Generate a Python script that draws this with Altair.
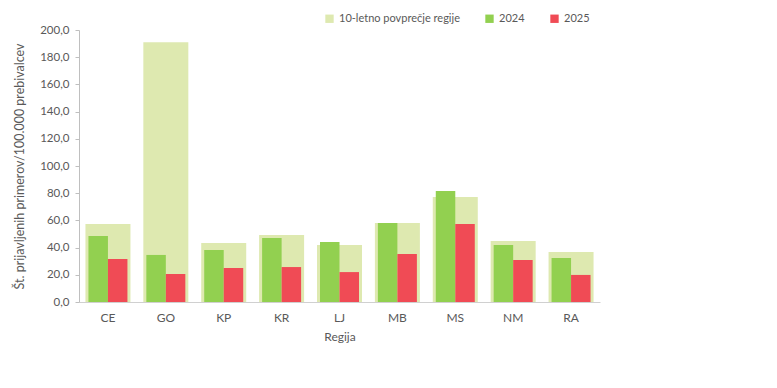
import altair as alt
import pandas as pd

regije = ["CE", "GO", "KP", "KR", "LJ", "MB", "MS", "NM", "RA"]
povprecje = [57.4, 191.0, 43.4, 49.3, 41.9, 58.1, 77.2, 44.9, 36.8]
v2024 = [48.5, 34.6, 38.2, 47.1, 44.1, 58.0, 81.6, 41.9, 32.4]
v2025 = [31.6, 20.6, 25.0, 25.7, 22.0, 35.3, 57.4, 30.9, 19.9]

serije = ["10-letno povprečje regije", "2024", "2025"]
barve = ["#DEE9B0", "#92D050", "#F04B55"]

rows = []
for r, a, b, c in zip(regije, povprecje, v2024, v2025):
    rows.append({"Regija": r, "serija": serije[0], "vrednost": a})
    rows.append({"Regija": r, "serija": serije[1], "vrednost": b})
    rows.append({"Regija": r, "serija": serije[2], "vrednost": c})
df = pd.DataFrame(rows)

FONT = "Lato"
GRAY = "#595959"

x = alt.X("Regija:N", sort=regije, title="Regija",
          scale=alt.Scale(paddingInner=0.22, paddingOuter=0.11),
          axis=alt.Axis(labelAngle=0, ticks=False, labelPadding=10, titlePadding=8,
                        domainColor="#D0D0D0", labelFontSize=12, titleFontSize=12))
y = alt.Y("vrednost:Q", title="Št. prijavljenih primerov/100.000 prebivalcev",
          scale=alt.Scale(domain=[0, 200], nice=False),
          axis=alt.Axis(values=list(range(0, 201, 20)), grid=False,
                        labelExpr="replace(format(datum.value, '.1f'), '.', ',')",
                        domainColor="#BFBFBF", tickColor="#BFBFBF", tickSize=4,
                        labelPadding=6, titlePadding=13, labelFontSize=11.5, titleFontSize=12.5))
color = alt.Color("serija:N", scale=alt.Scale(domain=serije, range=barve),
                  legend=alt.Legend(title=None, orient="none", legendX=245, legendY=-17,
                                    direction="horizontal", symbolType="square",
                                    symbolSize=70, symbolStrokeWidth=0, labelFontSize=11,
                                    columnPadding=24, labelOffset=4))

base = alt.Chart(df).encode(x=x, y=y, color=color)

avg = base.transform_filter(alt.datum.serija == serije[0]).mark_bar(width=45)
l24 = base.transform_filter(alt.datum.serija == serije[1]).mark_bar(width=19.5, xOffset=-9.75)
l25 = base.transform_filter(alt.datum.serija == serije[2]).mark_bar(width=19.5, xOffset=9.75)

chart = alt.layer(avg, l24, l25).properties(width=521, height=272).configure(
    font=FONT
).configure_axis(
    labelColor=GRAY, titleColor=GRAY, labelFont=FONT, titleFont=FONT, titleFontWeight="normal"
).configure_legend(
    labelColor=GRAY, labelFont=FONT
).configure_view(stroke=None)

chart.save("out.html", embed_options={"renderer": "svg", "actions": False})
